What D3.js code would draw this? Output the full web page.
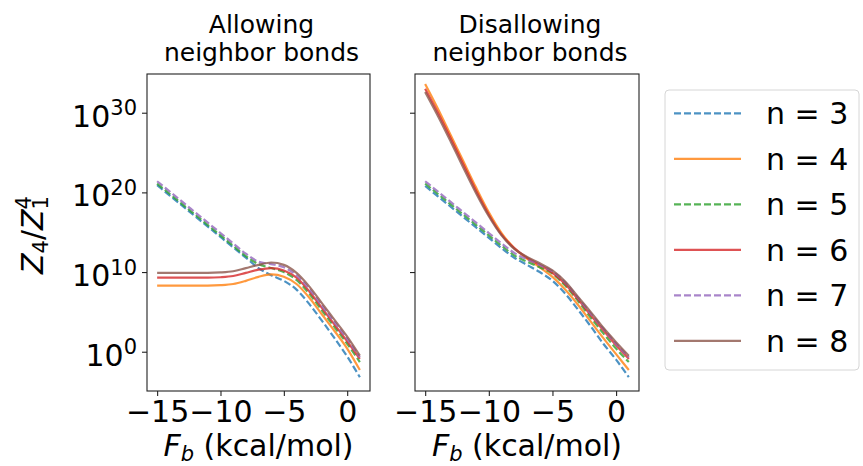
<!DOCTYPE html>
<html>
<head>
<meta charset="utf-8">
<script src="https://cdn.jsdelivr.net/npm/d3@7/dist/d3.min.js"></script>
<style>
  body { margin: 0; background: #fff; }
  text { font-family: "DejaVu Sans", sans-serif; fill: #000; }
</style>
</head>
<body>
<div id="chart"></div>
<script>
// F_b values (kcal/mol)
const fb = [-15, -14, -13, -12, -11, -10, -9, -8, -7, -6, -5, -4, -3, -2, -1, 0, 1];

const seriesNames = ["n = 3", "n = 4", "n = 5", "n = 6", "n = 7", "n = 8"];
const colors = ["#1f77b4", "#ff7f0e", "#2ca02c", "#d62728", "#9467bd", "#8c564b"];
const dashed = [true, false, true, false, true, false];

// log10(Z4 / Z1^4), allowing neighbor bonds
const allow3 = [20.9, 19.6, 18.3, 17.0, 15.7, 14.4, 13.1, 11.8, 10.5, 9.6, 8.9, 7.8, 6.0, 3.9, 1.7, -0.6, -3.2];
const allow4 = [8.3, 8.3, 8.3, 8.3, 8.3, 8.35, 8.5, 8.9, 9.4, 9.7, 9.4, 8.5, 6.8, 4.7, 2.6, 0.4, -2.3];
const allow5 = [21.1, 19.8, 18.5, 17.2, 15.9, 14.6, 13.3, 12.0, 11.0, 10.5, 10.0, 9.0, 7.3, 5.2, 3.1, 1.0, -1.3];
const allow6 = [9.3, 9.3, 9.3, 9.3, 9.3, 9.35, 9.5, 9.9, 10.3, 10.5, 10.2, 9.3, 7.6, 5.5, 3.4, 1.3, -0.9];
const allow7 = [21.4, 20.1, 18.8, 17.5, 16.2, 14.9, 13.6, 12.3, 11.3, 11.0, 10.6, 9.6, 7.9, 5.8, 3.7, 1.6, -0.7];
const allow8 = [9.9, 9.9, 9.9, 9.9, 9.9, 9.95, 10.1, 10.5, 10.9, 11.2, 10.9, 9.9, 8.2, 6.1, 4.0, 1.9, -0.5];

// log10(Z4 / Z1^4), disallowing neighbor bonds
const disallow3 = [20.8, 19.5, 18.2, 16.9, 15.6, 14.3, 13.0, 11.8, 10.9, 10.0, 8.9, 7.3, 5.3, 3.2, 1.0, -1.0, -3.2];
const disallow4 = [33.6, 30.5, 27.2, 23.9, 20.6, 17.5, 14.9, 13.0, 11.7, 10.6, 9.4, 7.8, 5.9, 3.8, 1.7, -0.3, -2.3];
const disallow5 = [21.1, 19.8, 18.5, 17.2, 15.9, 14.6, 13.3, 12.1, 11.3, 10.6, 9.8, 8.3, 6.4, 4.3, 2.3, 0.4, -1.3];
const disallow6 = [33.0, 30.0, 26.8, 23.5, 20.2, 17.2, 14.7, 13.0, 11.8, 10.9, 9.9, 8.5, 6.6, 4.6, 2.7, 0.8, -0.9];
const disallow7 = [21.4, 20.1, 18.8, 17.5, 16.2, 14.9, 13.6, 12.4, 11.6, 10.9, 10.1, 8.7, 6.8, 4.8, 2.9, 1.0, -0.7];
const disallow8 = [32.6, 29.6, 26.4, 23.1, 19.9, 17.0, 14.6, 12.9, 11.9, 11.1, 10.2, 8.8, 6.9, 5.0, 3.0, 1.2, -0.5];

const xTicks = [-15, -10, -5, 0];
const yTickExps = [0, 10, 20, 30];

const panels = [
  { title: ["Allowing", "neighbor bonds"], series: [allow3, allow4, allow5, allow6, allow7, allow8], left: 147, width: 223, yLabels: true },
  { title: ["Disallowing", "neighbor bonds"], series: [disallow3, disallow4, disallow5, disallow6, disallow7, disallow8], left: 415, width: 224, yLabels: false }
];

const W = 863, H = 466;
const plotTop = 74, plotH = 317;
const fs = 30;

const svg = d3.select("#chart").append("svg")
  .attr("width", W)
  .attr("height", H);

const y = d3.scaleLog()
  .domain([Math.pow(10, -4.93), Math.pow(10, 34.86)])
  .range([plotTop + plotH, plotTop]);

panels.forEach(function(p) {
  let x = d3.scaleLinear().domain([-15.8, 1.8]).range([p.left, p.left + p.width]);

  let g = svg.append("g");

  let line = d3.line()
    .x(function(d, i) { return x(fb[i]); })
    .y(function(d) { return y(Math.pow(10, d)); })
    .curve(d3.curveMonotoneX);

  p.series.forEach(function(s, k) {
    g.append("path")
      .datum(s)
      .attr("d", line)
      .attr("fill", "none")
      .attr("stroke", colors[k])
      .attr("stroke-opacity", 0.8)
      .attr("stroke-width", 2.2)
      .attr("stroke-dasharray", dashed[k] ? "7,3" : null);
  });

  // frame
  g.append("rect")
    .attr("x", p.left).attr("y", plotTop)
    .attr("width", p.width).attr("height", plotH)
    .attr("fill", "none").attr("stroke", "#222").attr("stroke-width", 1.1);

  // x axis
  let xAxis = g.append("g")
    .attr("transform", "translate(0," + (plotTop + plotH) + ")")
    .call(d3.axisBottom(x).tickValues(xTicks).tickSize(5).tickPadding(5)
      .tickFormat(function(d) { return d < 0 ? "\u2212" + Math.abs(d) : d; }));
  xAxis.select(".domain").remove();
  xAxis.selectAll("line").attr("stroke", "#222").attr("stroke-width", 1.1);
  xAxis.selectAll("text").attr("font-size", fs).attr("font-family", "DejaVu Sans").attr("fill", "#000");

  // y axis
  let yAxis = g.append("g")
    .attr("transform", "translate(" + p.left + ",0)")
    .call(d3.axisLeft(y).tickValues(yTickExps.map(function(e) { return Math.pow(10, e); }))
      .tickSize(5).tickPadding(5).tickFormat(""));
  yAxis.select(".domain").remove();
  yAxis.selectAll("line").attr("stroke", "#222").attr("stroke-width", 1.1);
  if (p.yLabels) {
    yAxis.selectAll(".tick text").each(function(d) {
      let t = d3.select(this)
        .attr("font-size", fs).attr("font-family", "DejaVu Sans").attr("fill", "#000")
        .attr("dy", "0.45em");
      t.append("tspan").text("10");
      t.append("tspan").attr("font-size", 21).attr("dy", -11.5)
        .text(Math.round(Math.log10(d)));
    });
  }

  // title
  let cx = p.left + p.width / 2;
  p.title.forEach(function(line, i) {
    svg.append("text")
      .attr("x", cx + 3).attr("y", 33 + i * 28)
      .attr("text-anchor", "middle")
      .attr("font-size", 25)
      .text(line);
  });

  // x label
  let xl = svg.append("text")
    .attr("x", cx).attr("y", 456)
    .attr("text-anchor", "middle")
    .attr("font-size", fs);
  xl.append("tspan").attr("font-style", "italic").text("F");
  xl.append("tspan").attr("font-style", "italic").attr("font-size", 21).attr("dy", 5).text("b");
  xl.append("tspan").attr("dy", -5).text(" (kcal/mol)");
});

// y label
let yl = svg.append("text")
  .attr("transform", "translate(43,235) rotate(-90)")
  .attr("text-anchor", "middle")
  .attr("font-size", fs);
yl.append("tspan").attr("font-style", "italic").text("Z");
yl.append("tspan").attr("font-size", 21).attr("dy", 5).text("4");
yl.append("tspan").attr("dy", -5).text("/");
yl.append("tspan").attr("font-style", "italic").text("Z");
yl.append("tspan").attr("font-size", 21).attr("dy", 5).text("1");
yl.append("tspan").attr("font-size", 21).attr("dx", -13.4).attr("dy", -17).text("4");

// legend
let lg = svg.append("g");
lg.append("rect")
  .attr("x", 665).attr("y", 90)
  .attr("width", 194).attr("height", 280)
  .attr("rx", 4)
  .attr("fill", "#fff").attr("stroke", "#d6d6d6").attr("stroke-width", 1);
seriesNames.forEach(function(name, k) {
  let ry = 113.3 + k * 45.5;
  lg.append("line")
    .attr("x1", 674).attr("x2", 741)
    .attr("y1", ry).attr("y2", ry)
    .attr("stroke", colors[k]).attr("stroke-opacity", 0.8)
    .attr("stroke-width", 2.2)
    .attr("stroke-dasharray", dashed[k] ? "7,3" : null);
  lg.append("text")
    .attr("x", 766).attr("y", ry + 11)
    .attr("font-size", fs)
    .text(name);
});
</script>
</body>
</html>
